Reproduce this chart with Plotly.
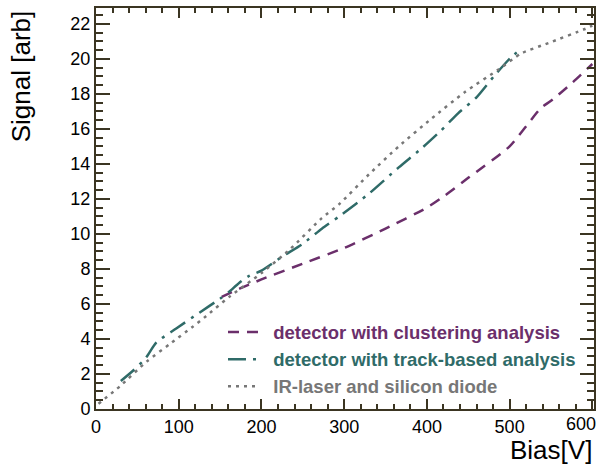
import plotly.graph_objects as go

# Clustering analysis (purple dashed)
clu_x = [152, 175, 200, 250, 300, 350, 400, 422, 450, 500, 538, 550, 575, 600]
clu_y = [6.4, 6.9, 7.4, 8.3, 9.2, 10.3, 11.5, 12.2, 13.2, 15.0, 17.2, 17.6, 18.6, 19.7]

# Track-based analysis (teal dash-dot)
trk_x = [30, 45, 60, 73, 97, 125, 150, 161, 173, 185, 200, 225, 249, 273, 294, 330, 366, 394, 417, 438, 460, 481, 502, 515]
trk_y = [1.6, 2.2, 2.9, 3.8, 4.6, 5.5, 6.3, 6.7, 7.2, 7.6, 7.9, 8.7, 9.4, 10.3, 11.0, 12.3, 13.8, 14.9, 15.9, 16.9, 17.8, 19.0, 20.1, 20.6]

# IR-laser and silicon diode (grey dotted)
ir_x = [3, 29, 61, 89, 117, 133, 161, 201, 234, 273, 294, 330, 366, 406, 446, 487, 514, 547, 591, 600]
ir_y = [0.3, 1.3, 2.7, 3.7, 4.7, 5.3, 6.4, 7.8, 9.1, 10.9, 11.7, 13.4, 15.0, 16.6, 18.1, 19.4, 20.3, 20.9, 21.7, 21.9]

x_ticks = [0, 100, 200, 300, 400, 500, 600]
x_labels = ["0", "100", "200", "300", "400", "500", ""]
last_x_label = "600"

names = ["detector with clustering analysis",
         "detector with track-based analysis",
         "IR-laser and silicon diode"]
colors = ["#6b2f6b", "#2f6b68", "#777777"]
dashes = ["11px,8px", "18px,7px,3px,7px", "3px,5px"]

FONT = "Liberation Sans, Arial"

fig = go.Figure()
for i, (xs, ys) in enumerate([(clu_x, clu_y), (trk_x, trk_y), (ir_x, ir_y)]):
    fig.add_trace(go.Scatter(
        x=xs, y=ys, mode="lines",
        line=dict(color=colors[i], width=2.5, dash=dashes[i], shape="spline", smoothing=0.6),
        name=f'<b><span style="color:{colors[i]}">\u00a0\u00a0{names[i]}</span></b>',
        legendgroup=f"g{i}",
    ))

axcol = "#3b3522"
common = dict(
    showgrid=False, zeroline=False, showline=True, linecolor=axcol, linewidth=2,
    mirror="allticks", ticks="inside", tickcolor=axcol, tickwidth=2, automargin=False,
    tickfont=dict(family=FONT, size=18, color="black"),
)
fig.update_xaxes(range=[0, 602], tickmode="array", tickvals=x_ticks, ticktext=x_labels, ticklen=10,
                 minor=dict(dtick=20, tick0=0, ticks="inside", ticklen=5, tickcolor=axcol, tickwidth=2),
                 **common)
fig.update_yaxes(range=[0, 22.9], dtick=2, tick0=0, ticklen=14,
                 minor=dict(dtick=0.5, ticks="inside", ticklen=7, tickcolor=axcol, tickwidth=2),
                 **common)

fig.add_annotation(text=last_x_label, xref="x", yref="paper", x=x_ticks[-1], y=0,
                   xanchor="right", yanchor="top", xshift=6, yshift=-3, showarrow=False,
                   font=dict(family=FONT, size=18, color="black"))
fig.add_annotation(text="Signal [arb]", xref="paper", yref="paper", x=-0.15, y=1.0,
                   xanchor="center", yanchor="top", textangle=-90, showarrow=False,
                   font=dict(family=FONT, size=26, color="black"))
fig.add_annotation(text="Bias[V]", xref="paper", yref="paper", x=1.0, y=-0.144,
                   xanchor="right", yanchor="bottom", showarrow=False,
                   font=dict(family=FONT, size=26, color="black"))

fig.update_layout(
    width=605, height=467,
    margin=dict(l=96, r=11, t=8, b=58),
    paper_bgcolor="white", plot_bgcolor="white",
    showlegend=True,
    legend=dict(x=0.255, y=0.238, xanchor="left", yanchor="top",
                bgcolor="rgba(0,0,0,0)", traceorder="grouped", tracegroupgap=0,
                font=dict(family=FONT, size=18.5)),
)

fig.write_html("out.html")
